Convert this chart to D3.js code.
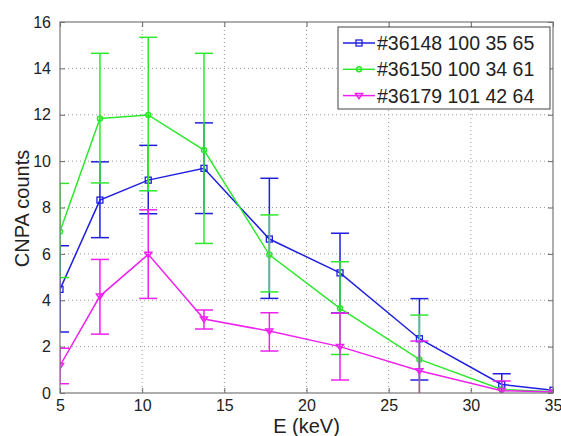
<!DOCTYPE html>
<html>
<head>
<meta charset="utf-8">
<script src="https://cdn.jsdelivr.net/npm/d3@7/dist/d3.min.js"></script>
<style>
  html, body { margin: 0; padding: 0; background: #fff; }
  svg { display: block; }
  text { font-family: "Liberation Sans", Arial, sans-serif; fill: #222; }
</style>
</head>
<body>
<svg id="chart" width="561" height="436"></svg>
<script>
// ---- data ----
const energies = [5, 7.43, 10.37, 13.76, 17.74, 22.04, 26.87, 31.88, 35];
const seriesNames = ["#36148 100 35 65", "#36150 100 34 61", "#36179 101 42 64"];
const blueValues = [4.47, 8.32, 9.18, 9.69, 6.64, 5.18, 2.34, 0.37, 0.12];
const blueUpper  = [6.35, 9.97, 10.68, 11.65, 9.26, 6.89, 4.07, 0.83, null];
const blueLower  = [2.63, 6.70, 7.73, 7.74, 4.08, 3.45, 0.56, -0.1, null];
const greenValues = [6.97, 11.84, 11.99, 10.48, 5.96, 3.65, 1.45, 0.15, 0.05];
const greenUpper  = [9.04, 14.65, 15.34, 14.65, 7.68, 5.66, 3.36, null, null];
const greenLower  = [4.98, 9.06, 8.72, 6.45, 4.36, 1.66, -0.3, null, null];
const magentaValues = [1.18, 4.18, 5.98, 3.19, 2.67, 2.0, 0.96, 0.1, 0.04];
const magentaUpper  = [1.93, 5.76, 7.90, 3.58, 3.46, 3.44, 2.24, 0.52, null];
const magentaLower  = [0.40, 2.54, 4.08, 2.76, 1.81, 0.56, -0.4, -0.3, null];
const xTicks = [5, 10, 15, 20, 25, 30, 35];
const yTicks = [0, 2, 4, 6, 8, 10, 12, 14, 16];
const xLabel = "E (keV)";
const yLabel = "CNPA counts";

// ---- layout ----
const svg = d3.select("#chart");
const L = 60, R = 553, T = 22, B = 393;
const x = d3.scaleLinear().domain([5, 35]).range([L, R]);
const y = d3.scaleLinear().domain([0, 16]).range([B, T]);

const series = [
  { name: seriesNames[0], v: blueValues, hi: blueUpper, lo: blueLower, color: "#1f1fe0", marker: "square" },
  { name: seriesNames[1], v: greenValues, hi: greenUpper, lo: greenLower, color: "#2ee82e", marker: "circle" },
  { name: seriesNames[2], v: magentaValues, hi: magentaUpper, lo: magentaLower, color: "#ee22ee", marker: "triangle" }
];

svg.append("defs").append("clipPath").attr("id", "clip")
  .append("rect").attr("x", L).attr("y", T).attr("width", R - L).attr("height", B - T);

// grid
const grid = svg.append("g");
grid.selectAll("line.gx").data(xTicks.slice(1, -1)).join("line")
  .attr("x1", d => x(d)).attr("x2", d => x(d)).attr("y1", T).attr("y2", B)
  .attr("stroke", "#999").attr("stroke-width", 1).attr("stroke-dasharray", "1,3");
grid.selectAll("line.gy").data(yTicks.slice(1, -1)).join("line")
  .attr("y1", d => y(d)).attr("y2", d => y(d)).attr("x1", L).attr("x2", R)
  .attr("stroke", "#999").attr("stroke-width", 1).attr("stroke-dasharray", "1,3");

// axes with inward ticks
const tickLen = 5;
const xAxisB = d3.axisBottom(x).tickValues(xTicks).tickSizeInner(-tickLen).tickSizeOuter(0).tickPadding(7);
const yAxisL = d3.axisLeft(y).tickValues(yTicks).tickSizeInner(-tickLen).tickSizeOuter(0).tickPadding(9);
const xAxisT = d3.axisTop(x).tickValues(xTicks).tickSizeInner(-tickLen).tickSizeOuter(0).tickFormat("");
const yAxisR = d3.axisRight(y).tickValues(yTicks).tickSizeInner(-tickLen).tickSizeOuter(0).tickFormat("");

function styleAxis(g) {
  g.select(".domain").remove();
  g.selectAll(".tick line").attr("stroke", "#666");
  g.selectAll(".tick text").attr("font-size", 16).attr("font-family", "Liberation Sans, Arial, sans-serif").attr("fill", "#222");
}
svg.append("g").attr("transform", `translate(0,${B})`).call(xAxisB).call(styleAxis);
svg.append("g").attr("transform", `translate(${L},0)`).call(yAxisL).call(styleAxis);
svg.append("g").attr("transform", `translate(0,${T})`).call(xAxisT).call(styleAxis);
svg.append("g").attr("transform", `translate(${R},0)`).call(yAxisR).call(styleAxis);

// data
const plot = svg.append("g").attr("clip-path", "url(#clip)");
const capHalf = 9;
const line = d3.line().x(d => x(d[0])).y(d => y(d[1]));

function drawMarker(g, type, cx, cy, color, size) {
  if (type === "square") {
    g.append("rect").attr("x", cx - size / 2).attr("y", cy - size / 2).attr("width", size).attr("height", size)
      .attr("fill", "none").attr("stroke", color).attr("stroke-width", 1.3);
  } else if (type === "circle") {
    g.append("circle").attr("cx", cx).attr("cy", cy).attr("r", size / 2 - 0.5)
      .attr("fill", "none").attr("stroke", color).attr("stroke-width", 1.5);
  } else {
    const s = size / 2 + 0.5;
    g.append("path").attr("d", `M${cx - s},${cy - s * 0.6}L${cx + s},${cy - s * 0.6}L${cx},${cy + s * 0.9}Z`)
      .attr("fill", "none").attr("stroke", color).attr("stroke-width", 1.5);
  }
}

series.forEach(s => {
  const g = plot.append("g");
  energies.forEach((e, i) => {
    if (s.hi[i] == null || s.lo[i] == null) return;
    const xe = x(e);
    g.append("line").attr("x1", xe).attr("x2", xe).attr("y1", y(s.hi[i])).attr("y2", y(s.lo[i]))
      .attr("stroke", s.color).attr("stroke-width", 1.5);
    [s.hi[i], s.lo[i]].forEach(vv => {
      g.append("line").attr("x1", xe - capHalf).attr("x2", xe + capHalf).attr("y1", y(vv)).attr("y2", y(vv))
        .attr("stroke", s.color).attr("stroke-width", 1.5);
    });
  });
  const pts = energies.map((e, i) => [e, s.v[i]]);
  g.append("path").attr("d", line(pts)).attr("fill", "none").attr("stroke", s.color).attr("stroke-width", 1.5);
  pts.forEach(p => drawMarker(g, s.marker, x(p[0]), y(p[1]), s.color, 6));
});

// frame
svg.append("rect").attr("x", L).attr("y", T).attr("width", R - L).attr("height", B - T)
  .attr("fill", "none").attr("stroke", "#777").attr("stroke-width", 1.2);

// legend
const lg = svg.append("g");
lg.append("rect").attr("x", 338).attr("y", 27).attr("width", 212).attr("height", 82)
  .attr("fill", "#fff").attr("stroke", "#444").attr("stroke-width", 1);
series.forEach((s, i) => {
  const yy = 43 + i * 26.3;
  lg.append("line").attr("x1", 343).attr("x2", 375).attr("y1", yy).attr("y2", yy)
    .attr("stroke", s.color).attr("stroke-width", 1.5);
  drawMarker(lg, s.marker, 359, yy, s.color, 6);
  lg.append("text").attr("x", 377).attr("y", yy + 7).attr("font-size", 19.5).text(s.name);
});

// axis labels
svg.append("text").attr("x", (L + R) / 2).attr("y", 433).attr("text-anchor", "middle")
  .attr("font-size", 20).text(xLabel);
svg.append("text").attr("transform", `translate(29,${(T + B) / 2 + 1}) rotate(-90)`).attr("text-anchor", "middle")
  .attr("font-size", 20).text(yLabel);
</script>
</body>
</html>
